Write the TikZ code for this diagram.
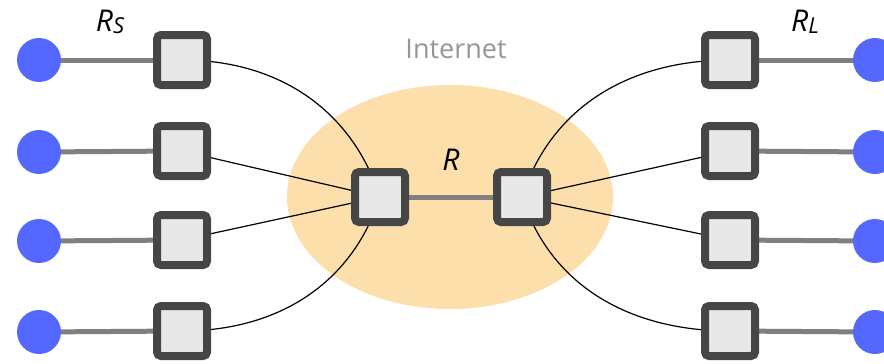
\documentclass[tikz,border=0pt]{standalone}
\usepackage{fontspec}
\setmainfont{Open Sans}
\usetikzlibrary{backgrounds}
\definecolor{dotblue}{RGB}{84,104,255}
\definecolor{cloud}{RGB}{252,223,170}
\definecolor{boxfill}{RGB}{232,232,232}
\definecolor{boxedge}{RGB}{70,70,70}
\definecolor{linkgray}{RGB}{128,128,128}
\definecolor{labgray}{RGB}{150,150,150}
\begin{document}
\begin{tikzpicture}[x=1pt,y=-1pt,
  router/.style={draw=boxedge,fill=boxfill,line width=8pt,rounded corners=4pt,minimum size=50pt,inner sep=0pt},
  host/.style={circle,fill=dotblue,minimum size=44pt,inner sep=0pt},
  access/.style={draw=linkgray,line width=5pt},
  wire/.style={draw=black,line width=1.2pt},
  lab/.style={font=\fontsize{30}{30}\selectfont\itshape,inner sep=0pt}]
\useasboundingbox (0,0) rectangle (884,364);
\clip (0,0) rectangle (884,364);
\node[font=\fontsize{27}{27}\selectfont,text=labgray] (inet) at (456,49) {Internet};
% hosts
\node[host] (h1) at (39,60) {};
\node[host] (h2) at (39,152) {};
\node[host] (h3) at (39,241) {};
\node[host] (h4) at (39,332) {};
\node[host] (k1) at (875,60) {};
\node[host] (k2) at (875,152) {};
\node[host] (k3) at (875,241) {};
\node[host] (k4) at (875,332) {};
% routers
\node[router] (s1) at (182,60) {};
\node[router] (s2) at (182,151) {};
\node[router] (s3) at (182,240) {};
\node[router] (s4) at (182,331) {};
\node[router] (d1) at (730,60) {};
\node[router] (d2) at (730,151) {};
\node[router] (d3) at (730,240) {};
\node[router] (d4) at (730,331) {};
\node[router] (mL) at (380,197) {};
\node[router] (mR) at (522,197) {};
% labels
\node[lab] (rs) at (110,22) {R\raisebox{-2pt}{\fontsize{22}{22}\selectfont S}};
\node[lab] (rl) at (805,22) {R\raisebox{-2pt}{\fontsize{22}{22}\selectfont L}};
\node[lab] (r) at (451,160) {R};
\begin{scope}[on background layer]
\fill[cloud] (450,197) ellipse [x radius=163, y radius=112];
\draw[access] (h1.center) -- (s1.center);
\draw[access] (h2.center) -- (s2.center);
\draw[access] (h3.center) -- (s3.center);
\draw[access] (h4.center) -- (s4.center);
\draw[access] (k1.center) -- (d1.center);
\draw[access] (k2.center) -- (d2.center);
\draw[access] (k3.center) -- (d3.center);
\draw[access] (k4.center) -- (d4.center);
\draw[access] (mL.center) -- (mR.center);
\draw[wire] (s1.center) to[out=0,in=108] (mL.center);
\draw[wire] (s2.center) -- (mL.center);
\draw[wire] (s3.center) -- (mL.center);
\draw[wire] (s4.center) to[out=0,in=-108] (mL.center);
\draw[wire] (d1.center) to[out=180,in=72] (mR.center);
\draw[wire] (d2.center) -- (mR.center);
\draw[wire] (d3.center) -- (mR.center);
\draw[wire] (d4.center) to[out=180,in=-72] (mR.center);
\end{scope}
\end{tikzpicture}
\end{document}
